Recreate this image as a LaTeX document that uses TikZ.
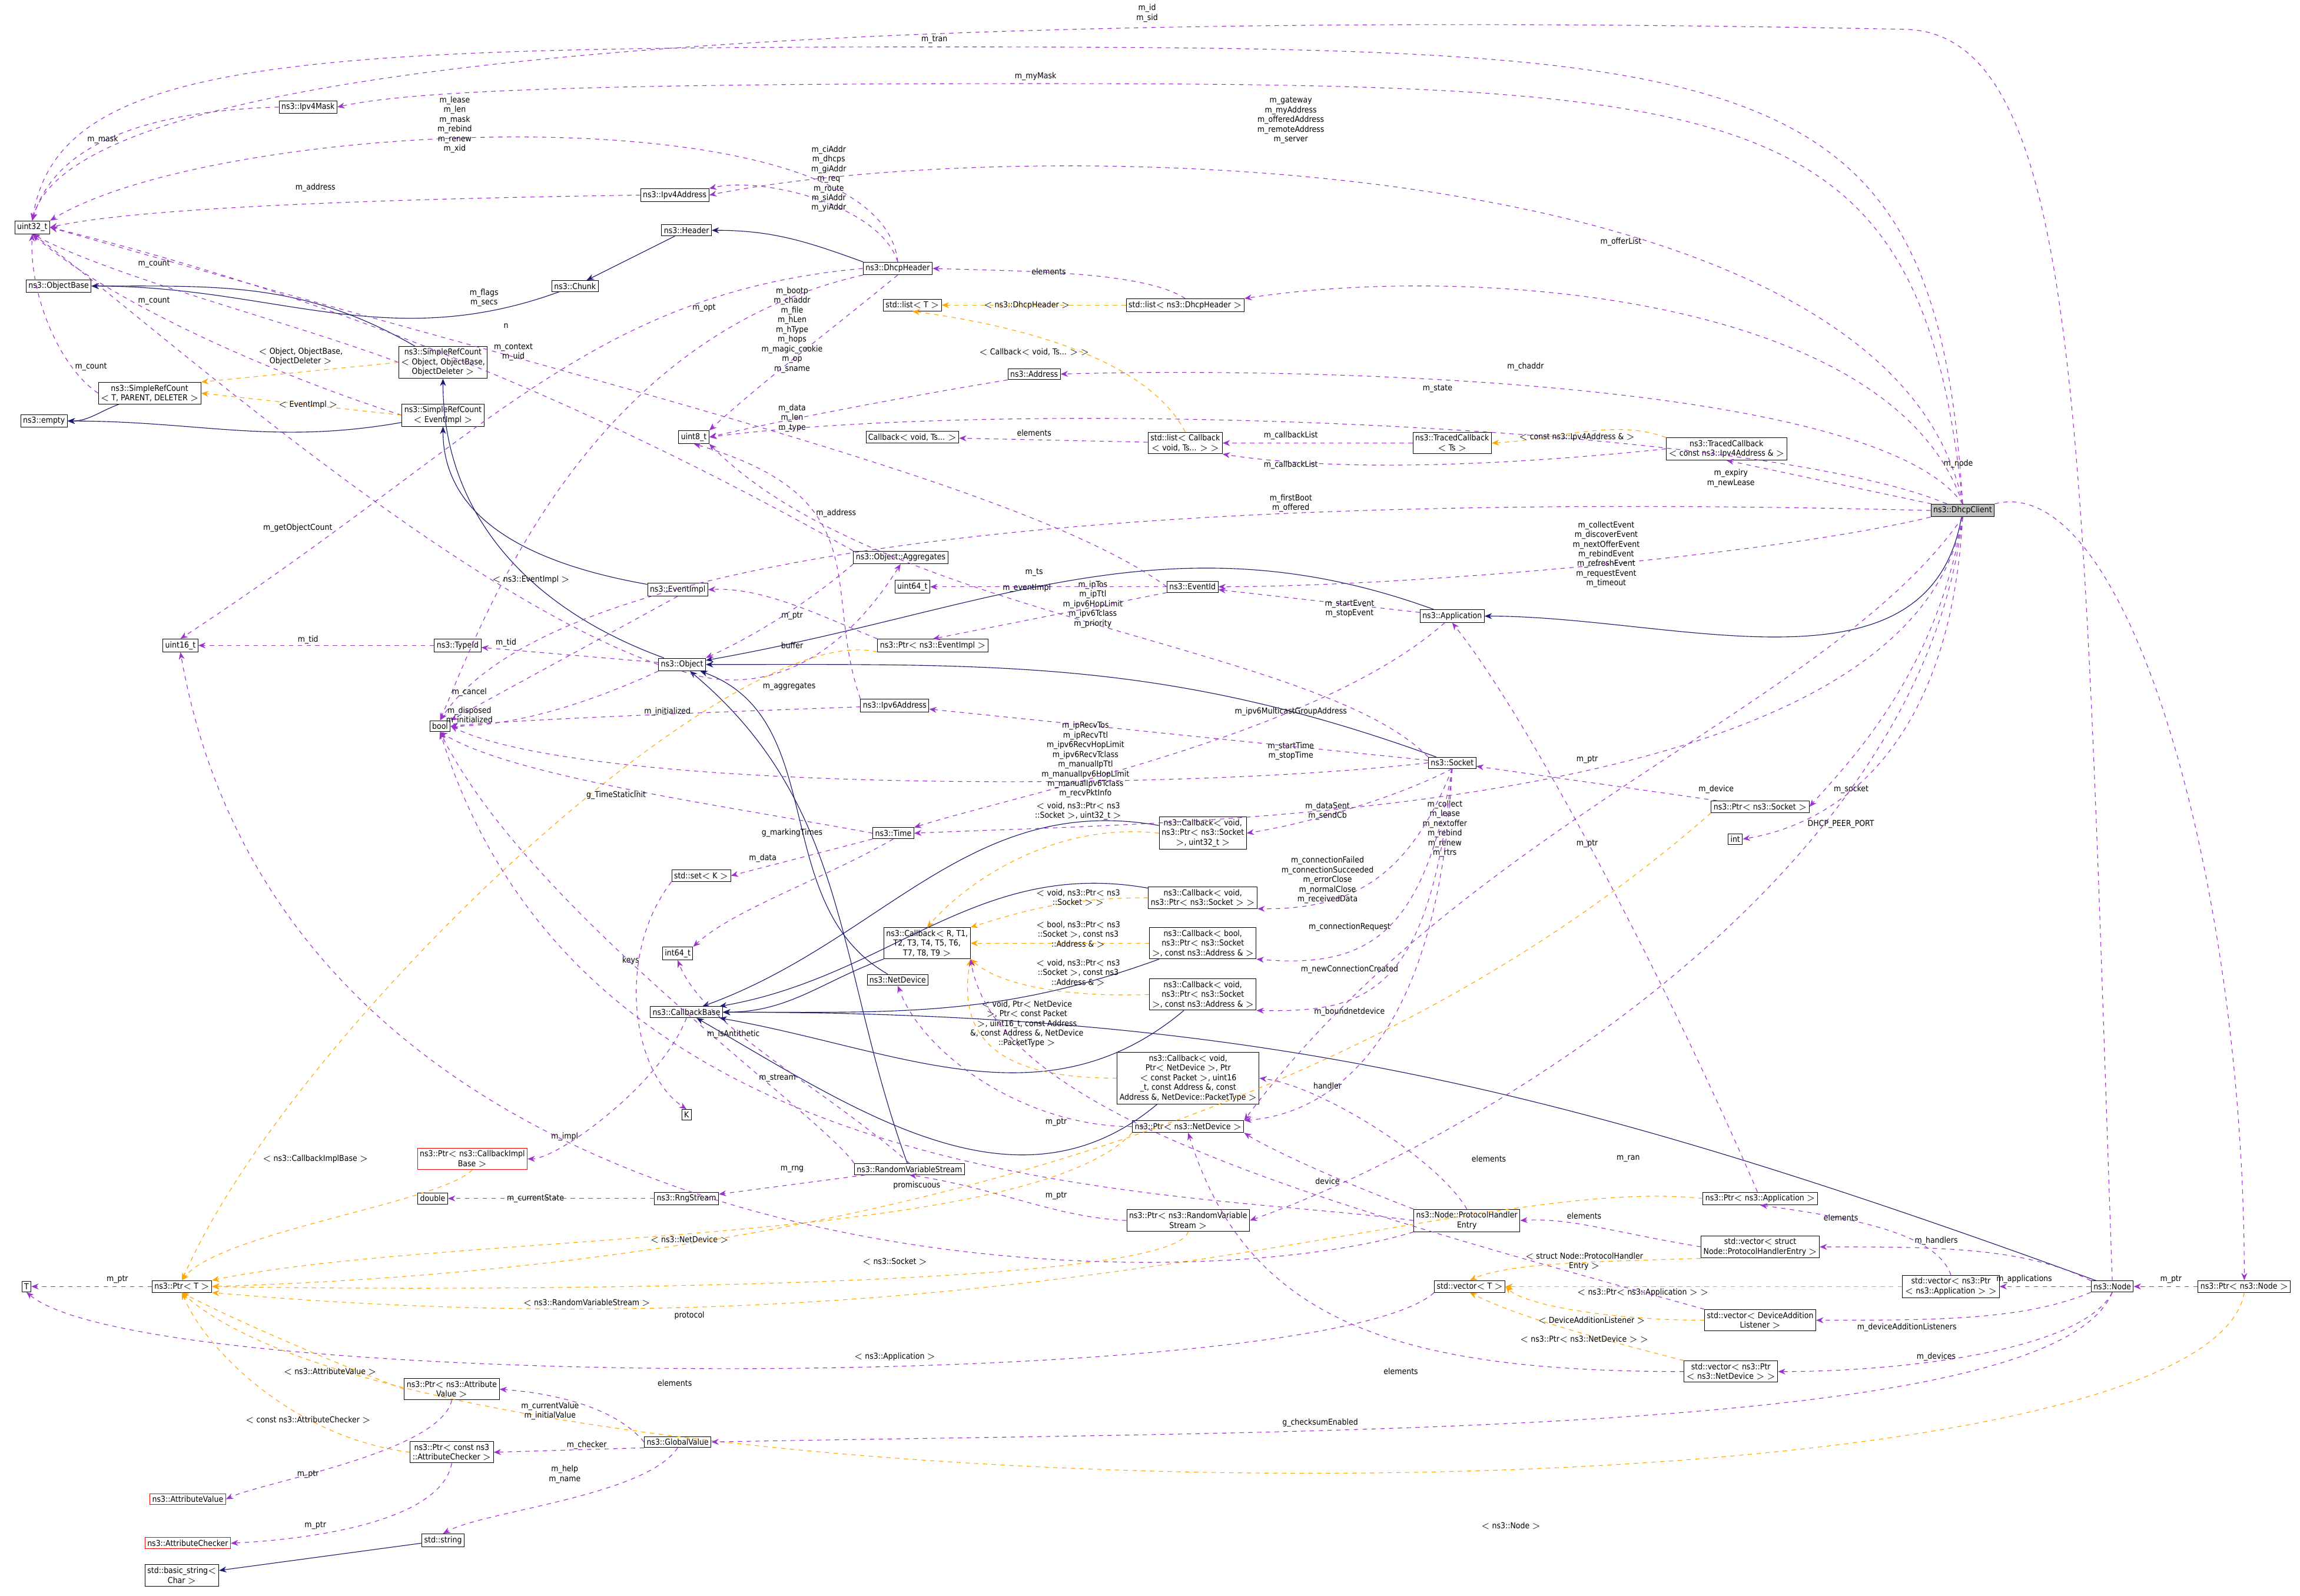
\documentclass[tikz,border=0pt]{standalone}
\usepackage{fontspec}
\setmainfont{DejaVu Sans Condensed}
\usetikzlibrary{arrows.meta}
\definecolor{cpurple}{HTML}{9A32CD}
\definecolor{cnavy}{HTML}{191970}
\definecolor{corange}{HTML}{FFA500}
\tikzset{
  box/.style={draw=black,fill=white,inner sep=1.6pt,align=center,font=\fontsize{5.6}{6.6}\selectfont},
  redbox/.style={box,draw=red},
  graybox/.style={box,fill=gray!50},
  lbl/.style={align=center,inner sep=0.5pt,font=\fontsize{5.6}{6.6}\selectfont},
  coll/.style={draw=cpurple,dashed,line width=0.45pt,-{Stealth[length=5pt,width=4pt]}},
  inh/.style={draw=cnavy,line width=0.45pt,-{Stealth[length=5pt,width=4pt]}},
  tmpl/.style={draw=corange,dashed,line width=0.45pt,-{Stealth[length=5pt,width=4pt]}},
}
\begin{document}
\begin{tikzpicture}[x=1pt,y=-1pt]
\useasboundingbox (0,0) rectangle (1568,1088);
% nodes
\node[box] (u32) at (22,155) {uint32\_t};
\node[box] (ipv4mask) at (210,73) {ns3::Ipv4Mask};
\node[box] (ipv4addr) at (460,133) {ns3::Ipv4Address};
\node[box] (header) at (468,157) {ns3::Header};
\node[box] (dhcph) at (612,183) {ns3::DhcpHeader};
\node[box] (objbase) at (40,195) {ns3::ObjectBase};
\node[box] (chunk) at (392,195) {ns3::Chunk};
\node[box] (listT) at (622,208) {std::list$<$ T $>$};
\node[box] (listdh) at (808,208) {std::list$<$ ns3::DhcpHeader $>$};
\node[box] (srcobj) at (302,247) {ns3::SimpleRefCount\\$<$ Object, ObjectBase,\\ObjectDeleter $>$};
\node[box] (srcT) at (102,268) {ns3::SimpleRefCount\\$<$ T, PARENT, DELETER $>$};
\node[box] (srcev) at (302,283) {ns3::SimpleRefCount\\$<$ EventImpl $>$};
\node[box] (empty) at (30,287) {ns3::empty};
\node[box] (address) at (705,255) {ns3::Address};
\node[box] (u8) at (473,298) {uint8\_t};
\node[box] (cbts) at (622,298) {Callback$<$ void, Ts... $>$};
\node[box] (listcb) at (808,302) {std::list$<$ Callback\\$<$ void, Ts... $>$ $>$};
\node[box] (tcts) at (990,302) {ns3::TracedCallback\\$<$ Ts $>$};
\node[box] (tcip) at (1177,306) {ns3::TracedCallback\\$<$ const ns3::Ipv4Address \& $>$};
\node[graybox] (dc) at (1338,348) {ns3::DhcpClient};
\node[box] (aggr) at (614,380) {ns3::Object::Aggregates};
\node[box] (u64) at (622,400) {uint64\_t};
\node[box] (evid) at (813,400) {ns3::EventId};
\node[box] (evimpl) at (462,402) {ns3::EventImpl};
\node[box] (app) at (990,420) {ns3::Application};
\node[box] (pev) at (636,440) {ns3::Ptr$<$ ns3::EventImpl $>$};
\node[box] (u16) at (123,440) {uint16\_t};
\node[box] (typeid) at (312,440) {ns3::TypeId};
\node[box] (obj) at (465,453) {ns3::Object};
\node[box] (bool) at (300,495) {bool};
\node[box] (ipv6) at (610,481) {ns3::Ipv6Address};
\node[box] (sock) at (990,520) {ns3::Socket};
\node[box] (psock) at (1200,550) {ns3::Ptr$<$ ns3::Socket $>$};
\node[box] (int) at (1183,572) {int};
\node[box] (time) at (609,568) {ns3::Time};
\node[box] (cb1) at (820,568) {ns3::Callback$<$ void,\\ns3::Ptr$<$ ns3::Socket\\$>$, uint32\_t $>$};
\node[box] (setK) at (478,597) {std::set$<$ K $>$};
\node[box] (cb2) at (820,612) {ns3::Callback$<$ void,\\ns3::Ptr$<$ ns3::Socket $>$ $>$};
\node[box] (cbR) at (632,643) {ns3::Callback$<$ R, T1,\\T2, T3, T4, T5, T6,\\T7, T8, T9 $>$};
\node[box] (cb3) at (820,643) {ns3::Callback$<$ bool,\\ns3::Ptr$<$ ns3::Socket\\$>$, const ns3::Address \& $>$};
\node[box] (i64) at (462,650) {int64\_t};
\node[box] (cb4) at (820,678) {ns3::Callback$<$ void,\\ns3::Ptr$<$ ns3::Socket\\$>$, const ns3::Address \& $>$};
\node[box] (netdev) at (612,668) {ns3::NetDevice};
\node[box] (cbbase) at (468,690) {ns3::CallbackBase};
\node[box] (K) at (468,760) {K};
\node[box] (cb5) at (810,735) {ns3::Callback$<$ void,\\Ptr$<$ NetDevice $>$, Ptr\\$<$ const Packet $>$, uint16\\\_t, const Address \&, const\\Address \&, NetDevice::PacketType $>$};
\node[box] (pnd) at (810,768) {ns3::Ptr$<$ ns3::NetDevice $>$};
\node[redbox] (pcbi) at (322,790) {ns3::Ptr$<$ ns3::CallbackImpl\\Base $>$};
\node[box] (rvs) at (620,797) {ns3::RandomVariableStream};
\node[box] (double) at (295,817) {double};
\node[box] (rng) at (468,817) {ns3::RngStream};
\node[box] (phe) at (1000,832) {ns3::Node::ProtocolHandler\\Entry};
\node[box] (prvs) at (810,832) {ns3::Ptr$<$ ns3::RandomVariable\\Stream $>$};
\node[box] (papp) at (1200,817) {ns3::Ptr$<$ ns3::Application $>$};
\node[box] (vphe) at (1200,850) {std::vector$<$ struct\\Node::ProtocolHandlerEntry $>$};
\node[box] (vecT) at (1002,877) {std::vector$<$ T $>$};
\node[box] (node) at (1440,877) {ns3::Node};
\node[box] (vpapp) at (1330,877) {std::vector$<$ ns3::Ptr\\$<$ ns3::Application $>$ $>$};
\node[box] (pnode) at (1530,877) {ns3::Ptr$<$ ns3::Node $>$};
\node[box] (T) at (18,877) {T};
\node[box] (ptrT) at (124,877) {ns3::Ptr$<$ T $>$};
\node[box] (vdal) at (1200,900) {std::vector$<$ DeviceAddition\\Listener $>$};
\node[box] (vpnd) at (1180,935) {std::vector$<$ ns3::Ptr\\$<$ ns3::NetDevice $>$ $>$};
\node[box] (pav) at (308,947) {ns3::Ptr$<$ ns3::Attribute\\Value $>$};
\node[box] (gv) at (462,983) {ns3::GlobalValue};
\node[box] (pac) at (308,990) {ns3::Ptr$<$ const ns3\\::AttributeChecker $>$};
\node[redbox] (av) at (128,1022) {ns3::AttributeValue};
\node[redbox] (ac) at (128,1052) {ns3::AttributeChecker};
\node[box] (str) at (302,1050) {std::string};
\node[box] (bstr) at (124,1074) {std::basic\_string$<$\\Char $>$};

% inheritance
\draw[inh] (header) -- (chunk);
\draw[inh] (dhcph.north west) to[out=160,in=0] (header);
\draw[inh] (chunk) to[out=200,in=0] (objbase);
\draw[inh] (srcobj) to[out=150,in=0] (objbase);
\draw[inh] (srcT) to[out=200,in=0] (empty);
\draw[inh] (srcev) to[out=190,in=0] (empty);
\draw[inh] (obj) to[out=160,in=-90] (srcobj.south);
\draw[inh] (evimpl) to[out=170,in=-90] (srcev.south);
\draw[inh] (dc) to[out=-100,in=0] (app);
\draw[inh] (app) to[out=160,in=10] (obj);
\draw[inh] (sock) to[out=160,in=0] (obj);
\draw[inh] (netdev) to[out=150,in=-20] (obj);
\draw[inh] (rvs) to[out=110,in=-40] (obj);
\draw[inh] (node) to[out=160,in=0] (cbbase.east);
\draw[inh] (cbR) to[out=200,in=0] (cbbase);
\draw[inh] (cb1) to[out=170,in=20] (cbbase);
\draw[inh] (cb2) to[out=170,in=10] (cbbase);
\draw[inh] (cb3) to[out=200,in=0] (cbbase);
\draw[inh] (cb4) to[out=220,in=-10] (cbbase);
\draw[inh] (cb5) to[out=220,in=-30] (cbbase);
\draw[inh] (str) -- (bstr);

% DhcpClient members
\draw[coll] (dc.north) .. controls (1320,40) and (1200,32) .. (637,32) .. controls (200,32) and (40,40) .. (u32.north);
\node[lbl] (l1) at (637,27) {m\_tran};
\draw[coll] (dc.north) .. controls (1310,70) and (1200,57) .. (706,57) .. controls (400,57) and (280,62) .. (ipv4mask.east);
\node[lbl] (l2) at (706,52) {m\_myMask};
\draw[coll] (dc.north) .. controls (1290,100) and (700,90) .. (ipv4addr.east);
\node[lbl] (l3) at (880,82) {m\_gateway\\m\_myAddress\\m\_offeredAddress\\m\_remoteAddress\\m\_server};
\draw[coll] (dc.north) .. controls (1290,200) and (1000,180) .. (listdh.north east);
\node[lbl] (l4) at (1105,165) {m\_offerList};
\draw[coll] (dc.north) .. controls (1280,260) and (900,250) .. (address.east);
\node[lbl] (l5) at (1040,250) {m\_chaddr};
\draw[coll] (dc) .. controls (1200,290) and (700,270) .. (u8.east);
\node[lbl] (l6) at (980,265) {m\_state};
\draw[coll] (dc) -- (tcip.south);
\node[lbl] (l7) at (1180,326) {m\_expiry\\m\_newLease};
\draw[coll] (dc.west) .. controls (1000,340) and (400,340) .. (bool.north);
\node[lbl] (l8) at (880,343) {m\_firstBoot\\m\_offered};
\draw[coll] (dc.south west) .. controls (1200,380) and (950,400) .. (evid.east);
\node[lbl] (l9) at (1095,378) {m\_collectEvent\\m\_discoverEvent\\m\_nextOfferEvent\\m\_rebindEvent\\m\_refreshEvent\\m\_requestEvent\\m\_timeout};
\draw[coll] (dc.south) .. controls (1320,460) and (1260,520) .. (psock.east);
\node[lbl] (l10) at (1262,538) {m\_socket};
\draw[coll] (dc.south) .. controls (1330,500) and (1260,560) .. (int.east);
\node[lbl] (l11) at (1255,562) {DHCP\_PEER\_PORT};
\draw[coll] (dc.south) .. controls (1300,560) and (800,560) .. (time.east);
\node[lbl] (l12) at (985,565) {m\_collect\\m\_lease\\m\_nextoffer\\m\_rebind\\m\_renew\\m\_rtrs};
\draw[coll] (dc.south) .. controls (1250,480) and (1000,560) .. (pnd.north east);
\node[lbl] (l13) at (1170,538) {m\_device};
\draw[coll] (dc.south) .. controls (1310,600) and (1000,780) .. (prvs.east);
\node[lbl] (l14) at (1110,790) {m\_ran};
\draw[coll] (dc.north east) .. controls (1450,320) and (1530,600) .. (pnode.north);
\node[lbl] (l15) at (1335,316) {m\_node};

% Application
\draw[coll] (app) -- (evid);
\node[lbl] (l16) at (920,415) {m\_startEvent\\m\_stopEvent};
\draw[coll] (app) .. controls (900,500) and (700,540) .. (time.north east);
\node[lbl] (l17) at (880,512) {m\_startTime\\m\_stopTime};
\draw[coll] (papp) .. controls (1150,700) and (1050,500) .. (app.south);
\node[lbl] (l18) at (1082,575) {m\_ptr};

% Socket
\draw[coll] (sock) -- (ipv6);
\node[lbl] (l19) at (880,485) {m\_ipv6MulticastGroupAddress};
\draw[coll] (sock.north west) .. controls (900,440) and (600,420) .. (u8.south east);
\node[lbl] (l20) at (745,412) {m\_ipTos\\m\_ipTtl\\m\_ipv6HopLimit\\m\_ipv6Tclass\\m\_priority};
\draw[coll] (sock.west) .. controls (800,540) and (400,540) .. (bool.east);
\node[lbl] (l21) at (740,518) {m\_ipRecvTos\\m\_ipRecvTtl\\m\_ipv6RecvHopLimit\\m\_ipv6RecvTclass\\m\_manualIpTtl\\m\_manualIpv6HopLimit\\m\_manualIpv6Tclass\\m\_recvPktInfo};
\draw[coll] (sock.south) .. controls (960,540) and (900,560) .. (cb1.east);
\node[lbl] (l22) at (905,553) {m\_dataSent\\m\_sendCb};
\draw[coll] (sock.south) .. controls (960,600) and (920,620) .. (cb2.south east);
\node[lbl] (l23) at (905,600) {m\_connectionFailed\\m\_connectionSucceeded\\m\_errorClose\\m\_normalClose\\m\_receivedData};
\draw[coll] (sock.south) .. controls (970,640) and (930,660) .. (cb3.south east);
\node[lbl] (l24) at (920,632) {m\_connectionRequest};
\draw[coll] (sock.south) .. controls (975,680) and (930,690) .. (cb4.south east);
\node[lbl] (l25) at (920,661) {m\_newConnectionCreated};
\draw[coll] (sock.south) .. controls (980,720) and (900,760) .. (pnd.north east);
\node[lbl] (l26) at (920,690) {m\_boundnetdevice};
\draw[coll] (psock) -- (sock);
\node[lbl] (l27) at (1082,518) {m\_ptr};

% Dhcp header etc
\draw[coll] (ipv4mask.west) .. controls (120,75) and (40,90) .. (u32.north);
\node[lbl] (l28) at (70,95) {m\_mask};
\draw[coll] (ipv4addr.west) .. controls (300,135) and (100,140) .. (u32.east);
\node[lbl] (l29) at (215,128) {m\_address};
\draw[coll] (dhcph.north) .. controls (600,140) and (520,120) .. (ipv4addr.north east);
\node[lbl] (l30) at (565,122) {m\_ciAddr\\m\_dhcps\\m\_giAddr\\m\_req\\m\_route\\m\_siAddr\\m\_yiAddr};
\draw[coll] (dhcph.north) .. controls (600,60) and (150,80) .. (u32.north east);
\node[lbl] (l31) at (310,85) {m\_lease\\m\_len\\m\_mask\\m\_rebind\\m\_renew\\m\_xid};
\draw[coll] (dhcph.south) .. controls (560,230) and (520,260) .. (u8.north east);
\node[lbl] (l32) at (540,225) {m\_bootp\\m\_chaddr\\m\_file\\m\_hLen\\m\_hType\\m\_hops\\m\_magic\_cookie\\m\_op\\m\_sname};
\draw[coll] (dhcph.west) .. controls (400,200) and (330,300) .. (u16.north);
\node[lbl] (l33) at (330,203) {m\_flags\\m\_secs};
\draw[coll] (dhcph.south west) .. controls (400,230) and (330,420) .. (bool.north);
\node[lbl] (l34) at (480,210) {m\_opt};
\draw[tmpl] (listdh) -- (listT);
\node[lbl] (l35) at (700,208) {$<$ ns3::DhcpHeader $>$};
\draw[coll] (listdh.north) .. controls (780,185) and (700,185) .. (dhcph.east);
\node[lbl] (l36) at (715,185) {elements};
\draw[coll] (srcobj.west) .. controls (200,220) and (80,190) .. (u32.south);
\node[lbl] (l37) at (105,180) {m\_count};
\draw[coll] (srcev.west) .. controls (200,260) and (80,210) .. (u32.south);
\node[lbl] (l38) at (105,205) {m\_count};
\draw[coll] (srcT.west) .. controls (40,250) and (20,200) .. (u32.south);
\node[lbl] (l39) at (62,250) {m\_count};
\draw[tmpl] (srcobj.west) -- (srcT.north east);
\node[lbl] (l40) at (205,243) {$<$ Object, ObjectBase,\\ObjectDeleter $>$};
\draw[tmpl] (srcev.west) -- (srcT.east);
\node[lbl] (l41) at (210,276) {$<$ EventImpl $>$};
\draw[coll] (evimpl.south) -- (bool.north east);
\node[lbl] (l42) at (320,472) {m\_cancel};
\draw[coll] (obj.south west) .. controls (400,480) and (350,495) .. (bool.east);
\node[lbl] (l43) at (320,488) {m\_disposed\\m\_initialized};
\draw[coll] (obj.west) .. controls (300,400) and (80,200) .. (u32.south);
\node[lbl] (l44) at (203,360) {m\_getObjectCount};
\draw[coll] (obj) -- (typeid);
\node[lbl] (l45) at (345,438) {m\_tid};
\draw[coll] (typeid) -- (u16);
\node[lbl] (l46) at (210,436) {m\_tid};
\draw[coll] (obj.south) .. controls (500,470) and (560,470) .. (aggr.south);
\node[lbl] (l47) at (538,468) {m\_aggregates};
\draw[coll] (aggr.south west) .. controls (540,420) and (500,440) .. (obj.north east);
\node[lbl] (l48) at (540,440) {buffer};
\draw[coll] (aggr.north west) .. controls (500,330) and (300,220) .. (u32.east);
\node[lbl] (l49) at (345,222) {n};
\draw[coll] (pev.north west) .. controls (560,420) and (520,400) .. (evimpl.east);
\node[lbl] (l50) at (540,420) {m\_ptr};
\draw[coll] (evid) -- (u64);
\node[lbl] (l51) at (705,390) {m\_ts};
\draw[coll] (evid.south west) -- (pev.north);
\node[lbl] (l52) at (700,401) {m\_eventImpl};
\draw[coll] (evid.west) .. controls (700,330) and (400,260) .. (u32.east);
\node[lbl] (l53) at (350,240) {m\_context\\m\_uid};
\draw[tmpl] (pev.south west) .. controls (500,420) and (200,700) .. (ptrT.north);
\node[lbl] (l54) at (362,395) {$<$ ns3::EventImpl $>$};
\draw[coll] (address.south west) .. controls (620,270) and (540,285) .. (u8.east);
\node[lbl] (l55) at (540,285) {m\_data\\m\_len\\m\_type};
\draw[coll] (listcb) -- (cbts);
\node[lbl] (l56) at (705,295) {elements};
\draw[tmpl] (listcb.north) .. controls (780,240) and (680,220) .. (listT.south);
\node[lbl] (l57) at (705,240) {$<$ Callback$<$ void, Ts... $>$ $>$};
\draw[coll] (tcts) -- (listcb);
\node[lbl] (l58) at (880,297) {m\_callbackList};
\draw[coll] (tcip.west) .. controls (1000,320) and (900,320) .. (listcb.south east);
\node[lbl] (l59) at (880,317) {m\_callbackList};
\draw[tmpl] (tcip.north west) .. controls (1100,285) and (1060,300) .. (tcts.east);
\node[lbl] (l60) at (1075,298) {$<$ const ns3::Ipv4Address \& $>$};
\draw[coll] (ipv6.north west) .. controls (560,400) and (600,340) .. (u8.south);
\node[lbl] (l61) at (570,350) {m\_address};
\draw[coll] (ipv6) .. controls (500,485) and (360,490) .. (bool.east);
\node[lbl] (l62) at (455,485) {m\_initialized};
\draw[coll] (time.west) .. controls (500,550) and (350,530) .. (bool.south);
\node[lbl] (l63) at (420,542) {g\_TimeStaticInit};
\draw[coll] (time.south west) -- (setK.east);
\node[lbl] (l64) at (540,568) {g\_markingTimes};
\draw[coll] (time.south) .. controls (560,600) and (500,620) .. (i64.north east);
\node[lbl] (l65) at (520,585) {m\_data};
\draw[coll] (setK.south west) .. controls (420,650) and (430,730) .. (K.north);
\node[lbl] (l66) at (430,655) {keys};
\draw[coll] (cbbase.south) .. controls (450,740) and (380,790) .. (pcbi.east);
\node[lbl] (l67) at (385,775) {m\_impl};
\draw[tmpl] (pcbi.south) .. controls (300,820) and (150,840) .. (ptrT.north);
\node[lbl] (l68) at (215,790) {$<$ ns3::CallbackImplBase $>$};
\draw[tmpl] (cb1.west) .. controls (720,560) and (660,600) .. (cbR.north);
\node[lbl] (l69) at (735,553) {$<$ void, ns3::Ptr$<$ ns3\\::Socket $>$, uint32\_t $>$};
\draw[tmpl] (cb2.west) .. controls (730,612) and (700,620) .. (cbR.north east);
\node[lbl] (l70) at (735,612) {$<$ void, ns3::Ptr$<$ ns3\\::Socket $>$ $>$};
\draw[tmpl] (cb3.west) -- (cbR.east);
\node[lbl] (l71) at (735,637) {$<$ bool, ns3::Ptr$<$ ns3\\::Socket $>$, const ns3\\::Address \& $>$};
\draw[tmpl] (cb4.west) .. controls (720,680) and (680,670) .. (cbR.south east);
\node[lbl] (l72) at (735,663) {$<$ void, ns3::Ptr$<$ ns3\\::Socket $>$, const ns3\\::Address \& $>$};
\draw[tmpl] (cb5.west) .. controls (700,735) and (650,720) .. (cbR.south east);
\node[lbl] (l73) at (700,698) {$<$ void, Ptr$<$ NetDevice\\$>$, Ptr$<$ const Packet\\$>$, uint16\_t, const Address\\\&, const Address \&, NetDevice\\::PacketType $>$};
\draw[coll] (rvs.north west) .. controls (560,760) and (360,620) .. (bool.south);
\node[lbl] (l74) at (500,705) {m\_isAntithetic};
\draw[coll] (rvs) -- (rng);
\node[lbl] (l75) at (540,797) {m\_rng};
\draw[coll] (rvs.north) .. controls (560,740) and (480,700) .. (i64.south);
\node[lbl] (l76) at (530,735) {m\_stream};
\draw[coll] (rng) -- (double);
\node[lbl] (l77) at (365,817) {m\_currentState};
\draw[coll] (prvs.west) .. controls (720,830) and (680,810) .. (rvs.south);
\node[lbl] (l78) at (720,815) {m\_ptr};
\draw[tmpl] (prvs.south) .. controls (800,880) and (300,880) .. (ptrT.east);
\node[lbl] (l79) at (400,888) {$<$ ns3::RandomVariableStream $>$};
\draw[coll] (pnd.west) .. controls (700,768) and (630,720) .. (netdev.south);
\node[lbl] (l80) at (720,765) {m\_ptr};
\draw[tmpl] (pnd.south west) .. controls (700,850) and (300,840) .. (ptrT.north east);
\node[lbl] (l81) at (470,845) {$<$ ns3::NetDevice $>$};
\draw[tmpl] (psock.south west) .. controls (1000,700) and (700,860) .. (ptrT.east);
\node[lbl] (l82) at (610,860) {$<$ ns3::Socket $>$};
\draw[tmpl] (papp.west) .. controls (1000,800) and (700,930) .. (ptrT.south east);
\node[lbl] (l83) at (610,925) {$<$ ns3::Application $>$};
\draw[tmpl] (pnode.south) .. controls (1500,1050) and (300,1040) .. (ptrT.south);
\node[lbl] (l84) at (1030,1040) {$<$ ns3::Node $>$};
\draw[coll] (pnode) -- (node);
\node[lbl] (l85) at (1480,872) {m\_ptr};
\draw[coll] (ptrT) -- (T);
\node[lbl] (l86) at (80,872) {m\_ptr};
\draw[coll] (node.north) .. controls (1420,300) and (1420,25) .. (1300,20) .. controls (900,12) and (60,8) .. (u32.north);
\node[lbl] (l87) at (782,9) {m\_id\\m\_sid};
\draw[coll] (node) -- (vpapp);
\node[lbl] (l88) at (1380,872) {m\_applications};
\draw[coll] (node.north west) .. controls (1380,850) and (1320,850) .. (vphe.east);
\node[lbl] (l89) at (1320,846) {m\_handlers};
\draw[coll] (node.south west) .. controls (1380,900) and (1320,900) .. (vdal.east);
\node[lbl] (l90) at (1300,905) {m\_deviceAdditionListeners};
\draw[coll] (node.south) .. controls (1420,920) and (1300,935) .. (vpnd.east);
\node[lbl] (l91) at (1320,925) {m\_devices};
\draw[coll] (node.south) .. controls (1400,980) and (900,975) .. (gv.east);
\node[lbl] (l92) at (900,970) {g\_checksumEnabled};
\draw[coll] (vpapp.north) .. controls (1320,840) and (1260,830) .. (papp.south);
\node[lbl] (l93) at (1255,830) {elements};
\draw[tmpl] (vpapp.west) -- (vecT.east);
\node[lbl] (l94) at (1120,881) {$<$ ns3::Ptr$<$ ns3::Application $>$ $>$};
\draw[coll] (vphe.west) .. controls (1100,840) and (1070,830) .. (phe.east);
\node[lbl] (l95) at (1080,829) {elements};
\draw[tmpl] (vphe.south west) .. controls (1100,860) and (1030,860) .. (vecT.north);
\node[lbl] (l96) at (1080,860) {$<$ struct Node::ProtocolHandler\\Entry $>$};
\draw[tmpl] (vdal.west) .. controls (1100,900) and (1040,890) .. (vecT.east);
\node[lbl] (l97) at (1085,900) {$<$ DeviceAdditionListener $>$};
\draw[coll] (vdal.north west) .. controls (900,820) and (680,760) .. (cbR.south east);
\node[lbl] (l98) at (1015,790) {elements};
\draw[coll] (vecT.south west) .. controls (900,950) and (100,950) .. (T.south);
\node[lbl] (l99) at (460,943) {elements};
\draw[coll] (vpnd.west) .. controls (950,935) and (850,900) .. (pnd.south);
\node[lbl] (l100) at (955,935) {elements};
\draw[tmpl] (vpnd.north west) .. controls (1100,915) and (1040,900) .. (vecT.south);
\node[lbl] (l101) at (1080,913) {$<$ ns3::Ptr$<$ ns3::NetDevice $>$ $>$};
\draw[coll] (phe.north) .. controls (980,790) and (900,740) .. (cb5.east);
\node[lbl] (l102) at (905,740) {handler};
\draw[coll] (phe.north west) .. controls (900,800) and (860,780) .. (pnd.south east);
\node[lbl] (l103) at (905,805) {device};
\draw[coll] (phe.west) .. controls (800,810) and (400,820) .. (bool.south);
\node[lbl] (l104) at (625,808) {promiscuous};
\draw[coll] (phe.south west) .. controls (800,890) and (200,880) .. (u16.south);
\node[lbl] (l105) at (470,897) {protocol};
\draw[coll] (gv.west) .. controls (420,960) and (380,950) .. (pav.east);
\node[lbl] (l106) at (375,962) {m\_currentValue\\m\_initialValue};
\draw[coll] (gv.south west) -- (pac.east);
\node[lbl] (l107) at (400,985) {m\_checker};
\draw[coll] (gv.south) .. controls (440,1020) and (330,1030) .. (str.north);
\node[lbl] (l108) at (385,1005) {m\_help\\m\_name};
\draw[coll] (pav.south) .. controls (300,990) and (180,1010) .. (av.east);
\node[lbl] (l109) at (210,1005) {m\_ptr};
\draw[coll] (pac.south) .. controls (300,1040) and (200,1050) .. (ac.east);
\node[lbl] (l110) at (215,1040) {m\_ptr};
\draw[tmpl] (pav.west) .. controls (230,930) and (160,900) .. (ptrT.south);
\node[lbl] (l111) at (225,935) {$<$ ns3::AttributeValue $>$};
\draw[tmpl] (pac.west) .. controls (200,980) and (140,920) .. (ptrT.south);
\node[lbl] (l112) at (210,968) {$<$ const ns3::AttributeChecker $>$};
\end{tikzpicture}
\end{document}
